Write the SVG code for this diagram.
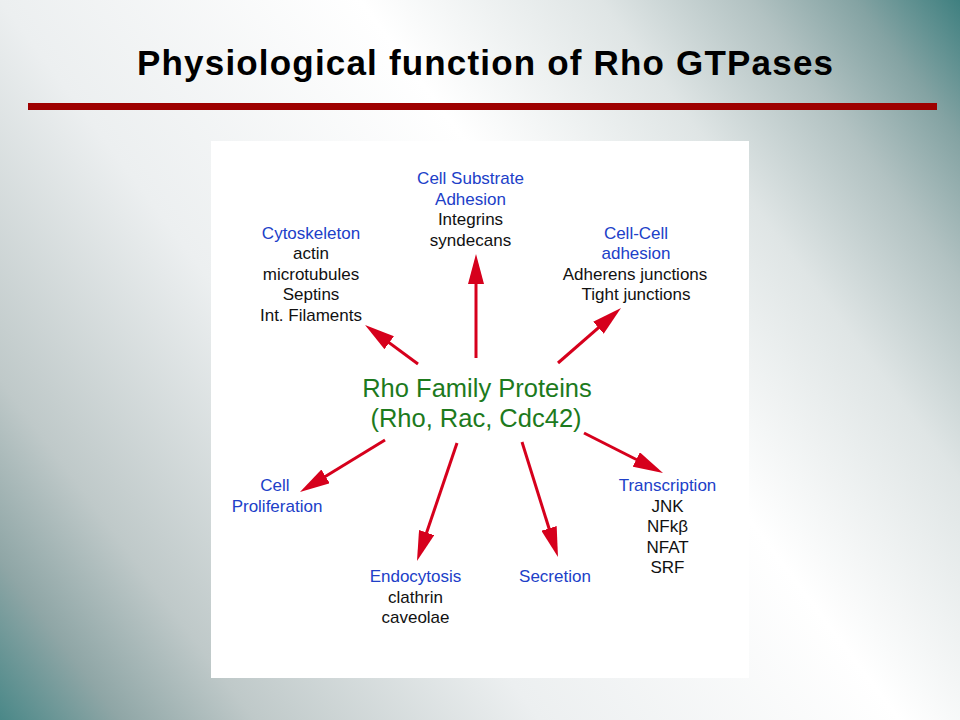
<svg xmlns="http://www.w3.org/2000/svg" width="960" height="720" viewBox="0 0 960 720">
  <defs>
    <linearGradient id="bg" gradientUnits="userSpaceOnUse" x1="0" y1="720" x2="960" y2="0">
      <stop offset="0" stop-color="#4a8888"/>
      <stop offset="0.08" stop-color="#8fa6a6"/>
      <stop offset="0.17" stop-color="#bfc9c9"/>
      <stop offset="0.36" stop-color="#eceff0"/>
      <stop offset="0.6" stop-color="#ffffff"/>
      <stop offset="0.76" stop-color="#dfe5e5"/>
      <stop offset="0.86" stop-color="#b2c2c2"/>
      <stop offset="0.93" stop-color="#84a3a3"/>
      <stop offset="1" stop-color="#3f8080"/>
    </linearGradient>
    <marker id="ah" markerUnits="userSpaceOnUse" viewBox="0 0 30 16" refX="20" refY="8" markerWidth="30" markerHeight="16" orient="auto">
      <path d="M0,0 L30,8 L0,16 z" fill="#d6001c"/>
    </marker>
  </defs>
  <style>
    .t { font-family: "Liberation Sans", Arial, sans-serif; text-anchor: middle; }
    .h { font-size: 17px; fill: #2040c8; }
    .b { font-size: 17px; fill: #111111; }
    .g { font-size: 25.5px; fill: #1d7a1d; }
    .c { stroke: #d6001c; stroke-width: 3; fill: none; marker-end: url(#ah); }
  </style>
  <rect x="0" y="0" width="960" height="720" fill="url(#bg)"/>
  <g id="title">
    <text class="t" x="485" y="75" font-size="35" font-weight="bold" fill="#000" textLength="696" lengthAdjust="spacing">Physiological function of Rho GTPases</text>
    <rect x="28" y="103" width="909" height="7" fill="#9e0000"/>
  </g>
  <rect id="panel" x="211" y="141" width="538" height="537" fill="#ffffff"/>
  <g id="connectors">
    <line class="c" x1="476" y1="358" x2="476" y2="264"/>
    <line class="c" x1="418" y1="364" x2="373.1" y2="330.9"/>
    <line class="c" x1="558" y1="363" x2="613.5" y2="314.6"/>
    <line class="c" x1="385" y1="440" x2="308.5" y2="486.8"/>
    <line class="c" x1="457" y1="443" x2="420.2" y2="551.5"/>
    <line class="c" x1="522" y1="442" x2="555" y2="547.5"/>
    <line class="c" x1="584" y1="433" x2="654.1" y2="468.5"/>
  </g>
  <g id="center">
    <text class="t g" x="477" y="397">Rho Family Proteins</text>
    <text class="t g" x="476" y="427">(Rho, Rac, Cdc42)</text>
  </g>
  <g id="substrate">
    <text class="t h" x="470.5" y="184">Cell Substrate</text>
    <text class="t h" x="470.5" y="204.5">Adhesion</text>
    <text class="t b" x="470.5" y="225">Integrins</text>
    <text class="t b" x="470.5" y="245.5">syndecans</text>
  </g>
  <g id="cytoskeleton">
    <text class="t h" x="311" y="238.5">Cytoskeleton</text>
    <text class="t b" x="311" y="259">actin</text>
    <text class="t b" x="311" y="279.5">microtubules</text>
    <text class="t b" x="311" y="300">Septins</text>
    <text class="t b" x="311" y="320.5">Int. Filaments</text>
  </g>
  <g id="cellcell">
    <text class="t h" x="636" y="238.5">Cell-Cell</text>
    <text class="t h" x="636" y="259">adhesion</text>
    <text class="t b" x="635" y="279.5">Adherens junctions</text>
    <text class="t b" x="636" y="300">Tight junctions</text>
  </g>
  <g id="proliferation">
    <text class="t h" x="275" y="491">Cell</text>
    <text class="t h" x="277" y="511.5">Proliferation</text>
  </g>
  <g id="endocytosis">
    <text class="t h" x="415.5" y="582">Endocytosis</text>
    <text class="t b" x="415.5" y="602.5">clathrin</text>
    <text class="t b" x="415.5" y="623">caveolae</text>
  </g>
  <g id="secretion">
    <text class="t h" x="555" y="582">Secretion</text>
  </g>
  <g id="transcription">
    <text class="t h" x="667.5" y="491">Transcription</text>
    <text class="t b" x="667.5" y="511.5">JNK</text>
    <text class="t b" x="667.5" y="532">NFkβ</text>
    <text class="t b" x="667.5" y="552.5">NFAT</text>
    <text class="t b" x="667.5" y="573">SRF</text>
  </g>
</svg>
